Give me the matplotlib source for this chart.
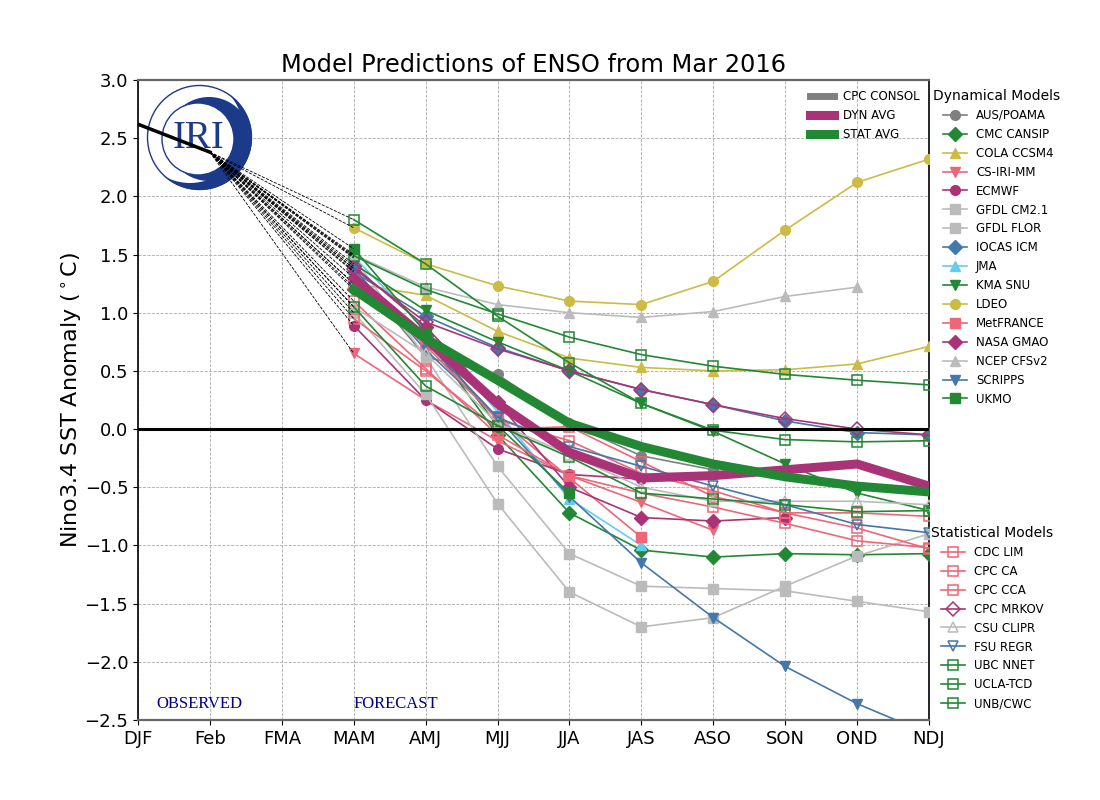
import numpy as np
import matplotlib
matplotlib.use('Agg')
import matplotlib.pyplot as plt
from matplotlib.patches import Circle
from matplotlib.transforms import IdentityTransform

SEASONS = ['DJF', 'Feb', 'FMA', 'MAM', 'AMJ', 'MJJ', 'JJA', 'JAS', 'ASO', 'SON', 'OND', 'NDJ']
OBSERVED = [2.62, 2.38]

GRAY = '#808080'
GREEN = '#228833'
GOLD = '#CCBB44'
PINK = '#EE6677'
PURPLE = '#AA3377'
LIGHT = '#BBBBBB'
BLUE = '#4477AA'
CYAN = '#66CCEE'

# forecasts all start at MAM
aus_poama = [1.36, 0.62, 0.47, 0.05, -0.23, -0.35]
cmc_cansip = [1.20, 0.80, -0.05, -0.72, -1.04, -1.10, -1.07, -1.08, -1.07]
cola_ccsm4 = [1.25, 1.15, 0.84, 0.61, 0.53, 0.50, 0.51, 0.56, 0.71]
cs_iri_mm = [0.65, 0.25, -0.10, -0.40, -0.63, -0.87]
ecmwf = [0.89, 0.25, -0.17, -0.39, -0.43]
gfdl_cm21 = [1.47, 0.62, -0.32, -1.07, -1.35, -1.37, -1.39, -1.48, -1.57]
gfdl_flor = [1.00, 0.30, -0.64, -1.40, -1.70, -1.62, -1.35, -1.09, -0.90]
iocas_icm = [1.35, 0.97, 0.70, 0.50, 0.34, 0.21, 0.07, -0.03, -0.05]
jma = [1.48, 0.85, 0.15, -0.60, -1.00]
kma_snu = [1.42, 1.02, 0.75, 0.50, 0.22, -0.02, -0.30, -0.55, -0.70]
ldeo = [1.73, 1.42, 1.23, 1.10, 1.07, 1.27, 1.71, 2.12, 2.32]
metfrance = [1.30, 0.75, 0.10, -0.42, -0.93]
nasa_gmao = [1.40, 0.88, 0.23, -0.50, -0.76, -0.79, -0.76]
ncep_cfsv2 = [1.50, 1.22, 1.07, 1.00, 0.96, 1.01, 1.14, 1.22]
scripps = [1.38, 0.68, 0.10, -0.58, -1.15, -1.62, -2.04, -2.36, -2.62]
ukmo = [1.55, 0.83, 0.03, -0.55]

cdc_lim = [1.10, 0.52, -0.05, -0.40, -0.55, -0.67, -0.81, -0.96, -1.02]
cpc_ca = [1.25, 0.72, 0.08, -0.10, -0.38, -0.53, -0.72, -0.85, -1.03]
cpc_cca = [0.95, 0.50, 0.00, 0.02, -0.28, -0.58, -0.72, -0.72, -0.75]
cpc_mrkov = [1.38, 0.92, 0.69, 0.50, 0.34, 0.21, 0.09, 0.00, -0.05]
csu_clipr = [1.05, 0.65, 0.05, -0.22, -0.50, -0.62, -0.62, -0.62, -0.65]
fsu_regr = [1.22, 0.75, 0.10, -0.15, -0.32, -0.49, -0.65, -0.82, -0.89]
ubc_nnet = [1.80, 1.42, 0.97, 0.57, 0.22, -0.01, -0.09, -0.11, -0.10]
ucla_tcd = [1.49, 1.20, 0.99, 0.79, 0.64, 0.54, 0.47, 0.42, 0.38]
unb_cwc = [1.05, 0.37, 0.03, -0.24, -0.55, -0.60, -0.65, -0.71, -0.70]

dyn_avg = [1.30, 0.78, 0.22, -0.20, -0.42, -0.40, -0.35, -0.30, -0.49]
stat_avg = [1.20, 0.78, 0.42, 0.05, -0.15, -0.30, -0.41, -0.49, -0.54]

DYNAMICAL = [
    ('AUS/POAMA', aus_poama, GRAY, 'o'),
    ('CMC CANSIP', cmc_cansip, GREEN, 'D'),
    ('COLA CCSM4', cola_ccsm4, GOLD, '^'),
    ('CS-IRI-MM', cs_iri_mm, PINK, 'v'),
    ('ECMWF', ecmwf, PURPLE, 'o'),
    ('GFDL CM2.1', gfdl_cm21, LIGHT, 's'),
    ('GFDL FLOR', gfdl_flor, LIGHT, 's'),
    ('IOCAS ICM', iocas_icm, BLUE, 'D'),
    ('JMA', jma, CYAN, '^'),
    ('KMA SNU', kma_snu, GREEN, 'v'),
    ('LDEO', ldeo, GOLD, 'o'),
    ('MetFRANCE', metfrance, PINK, 's'),
    ('NASA GMAO', nasa_gmao, PURPLE, 'D'),
    ('NCEP CFSv2', ncep_cfsv2, LIGHT, '^'),
    ('SCRIPPS', scripps, BLUE, 'v'),
    ('UKMO', ukmo, GREEN, 's'),
]
STATISTICAL = [
    ('CDC LIM', cdc_lim, PINK, 's'),
    ('CPC CA', cpc_ca, PINK, 's'),
    ('CPC CCA', cpc_cca, PINK, 's'),
    ('CPC MRKOV', cpc_mrkov, PURPLE, 'D'),
    ('CSU CLIPR', csu_clipr, LIGHT, '^'),
    ('FSU REGR', fsu_regr, BLUE, 'v'),
    ('UBC NNET', ubc_nnet, GREEN, 's'),
    ('UCLA-TCD', ucla_tcd, GREEN, 's'),
    ('UNB/CWC', unb_cwc, GREEN, 's'),
]

MAM = SEASONS.index('MAM')


def season_x(vals):
    return MAM + np.arange(len(vals))


fig = plt.figure(figsize=(11, 8), dpi=100)
ax = fig.add_axes([138 / 1100, 80 / 800, 791 / 1100, 640 / 800])

ax.grid(True, color='#aaaaaa', ls='--', lw=0.6)
ax.set_axisbelow(True)
for side in ('top', 'bottom'):
    ax.spines[side].set_color('#666666')
    ax.spines[side].set_linewidth(1.6)
for side in ('left', 'right'):
    ax.spines[side].set_linewidth(1.2)

# logo, in figure pixels
LOGO_BLUE = '#1C3A8A'
px = IdentityTransform()
def logo_disc(x, y, r, **kw):
    ax.add_patch(Circle((x, 800 - y), r, transform=px, zorder=1.8, clip_on=False, **kw))
logo_disc(199.5, 137.5, 52.5, fc=LOGO_BLUE, ec='none')
logo_disc(190.0, 130.0, 53, fc='white', ec='none')
logo_disc(209.0, 139.0, 42, fc=LOGO_BLUE, ec='none')
logo_disc(198.0, 139.0, 36, fc='white', ec=LOGO_BLUE, lw=1.0)
logo_disc(199.5, 137.5, 52, fc='none', ec=LOGO_BLUE, lw=1.0)
ax.text(199, 800 - 138, 'IRI', transform=px, family='Liberation Serif', fontsize=28,
        color=LOGO_BLUE, ha='center', va='center', zorder=1.9)

# dashed lines from last observed value to each first forecast
for label, vals, color, marker in DYNAMICAL + STATISTICAL:
    ax.plot([1, MAM], [OBSERVED[1], vals[0]], color='black', ls='--', lw=0.6, zorder=4)

dyn_handles = []
for label, vals, color, marker in DYNAMICAL:
    h, = ax.plot(season_x(vals), vals, color=color, marker=marker, ms=7, lw=1.2,
                 mec=color, mfc=color, label=label, zorder=3)
    dyn_handles.append(h)

stat_handles = []
for label, vals, color, marker in STATISTICAL:
    h, = ax.plot(season_x(vals), vals, color=color, marker=marker, ms=7, lw=1.2,
                 mec=color, mfc='none', mew=1.1, label=label, zorder=3)
    stat_handles.append(h)

cons_h, = ax.plot([], [], color=GRAY, lw=5, label='CPC CONSOL')
dyn_h, = ax.plot(season_x(dyn_avg), dyn_avg, color=PURPLE, lw=6.5, label='DYN AVG', zorder=5)
stat_h, = ax.plot(season_x(stat_avg), stat_avg, color=GREEN, lw=6.5, label='STAT AVG', zorder=6)

ax.plot(range(len(OBSERVED)), OBSERVED, color='black', lw=2.5, zorder=7)
ax.axhline(0, color='black', lw=2.2, zorder=7)

ax.set_xlim(0, len(SEASONS) - 1)
ax.set_ylim(-2.5, 3.0)
ax.set_xticks(range(len(SEASONS)))
ax.set_xticklabels(SEASONS)
ax.set_yticks(np.arange(-2.5, 3.01, 0.5))
ax.tick_params(labelsize=13)
ax.set_ylabel(r'Nino3.4 SST Anomaly ($^\circ$C)', fontsize=16, labelpad=0)
ax.set_title('Model Predictions of ENSO from Mar 2016', fontsize=17.4, pad=6)

ax.text(0.25, -2.36, 'OBSERVED', family='Liberation Serif', fontsize=12, color='navy', va='center')
ax.text(3.0, -2.36, 'FORECAST', family='Liberation Serif', fontsize=12, color='navy', va='center')

leg_kw = dict(frameon=False, fontsize=8.5, labelspacing=0.5, borderaxespad=0, borderpad=0,
              bbox_transform=fig.transFigure, loc='upper left')
leg_top = ax.legend(handles=[cons_h, dyn_h, stat_h],
                    bbox_to_anchor=(810 / 1100, 1 - 90 / 800), **leg_kw)
leg_dyn = ax.legend(handles=dyn_handles, bbox_to_anchor=(943 / 1100, 1 - 109 / 800), **leg_kw)
leg_stat = ax.legend(handles=stat_handles, bbox_to_anchor=(941 / 1100, 1 - 546 / 800), **leg_kw)
ax.add_artist(leg_top)
ax.add_artist(leg_dyn)

fig.text(933 / 1100, 1 - 96 / 800, 'Dynamical Models', fontsize=10, va='center')
fig.text(931 / 1100, 1 - 533 / 800, 'Statistical Models', fontsize=10, va='center')

fig.savefig('out.png', dpi=100)
